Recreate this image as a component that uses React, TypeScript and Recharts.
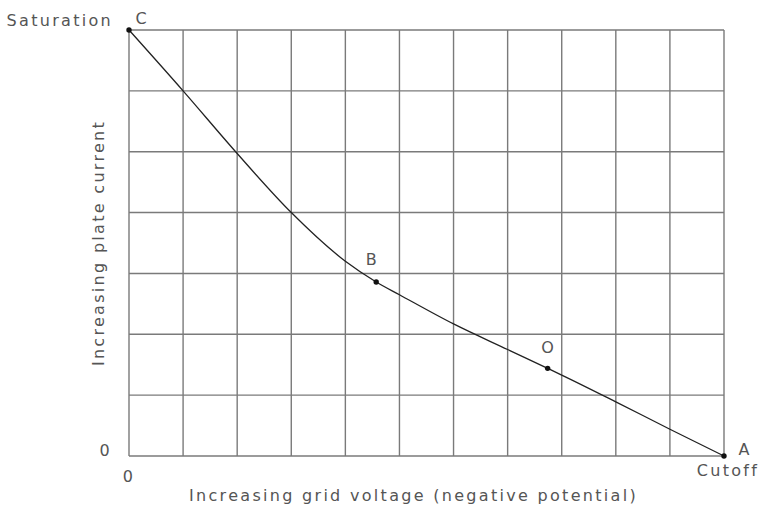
import { LineChart, Line, XAxis, YAxis, CartesianGrid } from "recharts";

// grid voltage in grid divisions (0 = zero bias, 11 = cutoff)
const gridVoltage = [0, 1, 2, 3, 4, 4.57, 5, 6, 7, 7.74, 8, 9, 10, 11];
// plate current in grid divisions (7 = saturation)
const plateCurrent = [7, 6, 4.97, 4, 3.2, 2.86, 2.65, 2.17, 1.75, 1.44, 1.33, 0.89, 0.44, 0];
// marked points on the curve
const pointTags = ["C", "", "", "", "", "B", "", "", "", "O", "", "", "", "A"];

const xTicks = [0, 1, 2, 3, 4, 5, 6, 7, 8, 9, 10, 11];
const yTicks = [0, 1, 2, 3, 4, 5, 6, 7];
const xTickLabels: Record<number, string> = { 0: "0", 11: "Cutoff" };
const yTickLabels: Record<number, string> = { 0: "0", 7: "Saturation" };

const xTitle = "Increasing grid voltage (negative potential)";
const yTitle = "Increasing plate current";

const data = gridVoltage.map((v, i) => ({
  v,
  i: plateCurrent[i],
  tag: pointTags[i],
}));

const FONT = "'DejaVu Sans', sans-serif";
const TEXT = "#555";

const textStyle = {
  fontFamily: FONT,
  fontSize: 16,
  fontWeight: 400,
  letterSpacing: 2.3,
  fill: TEXT,
};

// where each point letter sits relative to its dot
const tagOffset: Record<string, [number, number]> = {
  C: [12, -12],
  B: [-5, -22],
  O: [0, -21],
  A: [20, -7],
};

const CurveDot = (props: any) => {
  const { cx, cy, payload } = props;
  if (!payload.tag) return <g key={props.key} />;
  const [dx, dy] = tagOffset[payload.tag];
  return (
    <g key={props.key}>
      <circle cx={cx} cy={cy} r={2.7} fill="#111" />
      <text
        x={cx + dx}
        y={cy + dy}
        textAnchor="middle"
        dominantBaseline="central"
        style={{ ...textStyle, letterSpacing: 0 }}
      >
        {payload.tag}
      </text>
    </g>
  );
};

const XTick = (props: any) => {
  const { x, y, payload } = props;
  const label = xTickLabels[payload.value];
  if (!label) return <g />;
  const dx = payload.value === 11 ? 4 : 0;
  const dy = payload.value === 11 ? 6 : 12;
  return (
    <text
      x={x + dx}
      y={y + dy}
      textAnchor="middle"
      dominantBaseline="central"
      style={textStyle}
    >
      {label}
    </text>
  );
};

const YTick = (props: any) => {
  const { y, payload } = props;
  const label = yTickLabels[payload.value];
  if (!label) return <g />;
  const right = payload.value === 7 ? 113 : 112;
  return (
    <text
      x={right}
      y={y - (payload.value === 7 ? 10 : 6)}
      textAnchor="end"
      dominantBaseline="central"
      style={textStyle}
    >
      {label}
    </text>
  );
};

const XTitle = (props: any) => {
  const { viewBox } = props;
  const cx = viewBox.x + viewBox.width / 2 - 13;
  return (
    <text x={cx} y={495} textAnchor="middle" dominantBaseline="central" style={textStyle}>
      {xTitle}
    </text>
  );
};

const YTitle = (props: any) => {
  const { viewBox } = props;
  const cy = viewBox.y + viewBox.height / 2;
  return (
    <text
      x={98}
      y={cy}
      textAnchor="middle"
      dominantBaseline="central"
      transform={`rotate(-90, 98, ${cy})`}
      style={textStyle}
    >
      {yTitle}
    </text>
  );
};

export default function App() {
  return (
    <div style={{ width: 759, height: 525, background: "#fff" }}>
      <style>{`body{margin:0}`}</style>
      <LineChart
        width={759}
        height={525}
        data={data}
        margin={{ top: 30, right: 35, bottom: 0, left: 0 }}
      >
        <CartesianGrid stroke="#7a7a7a" strokeWidth={1.4} />
        <XAxis
          dataKey="v"
          type="number"
          domain={[0, 11]}
          ticks={xTicks}
          interval={0}
          height={69}
          axisLine={false}
          tickLine={false}
          tick={<XTick />}
          label={<XTitle />}
        />
        <YAxis
          type="number"
          domain={[0, 7]}
          ticks={yTicks}
          interval={0}
          width={129}
          axisLine={false}
          tickLine={false}
          tick={<YTick />}
          label={<YTitle />}
        />
        <Line
          dataKey="i"
          type="monotone"
          stroke="#222"
          strokeWidth={1.3}
          dot={CurveDot}
          activeDot={false}
          isAnimationActive={false}
        />
      </LineChart>
    </div>
  );
}
